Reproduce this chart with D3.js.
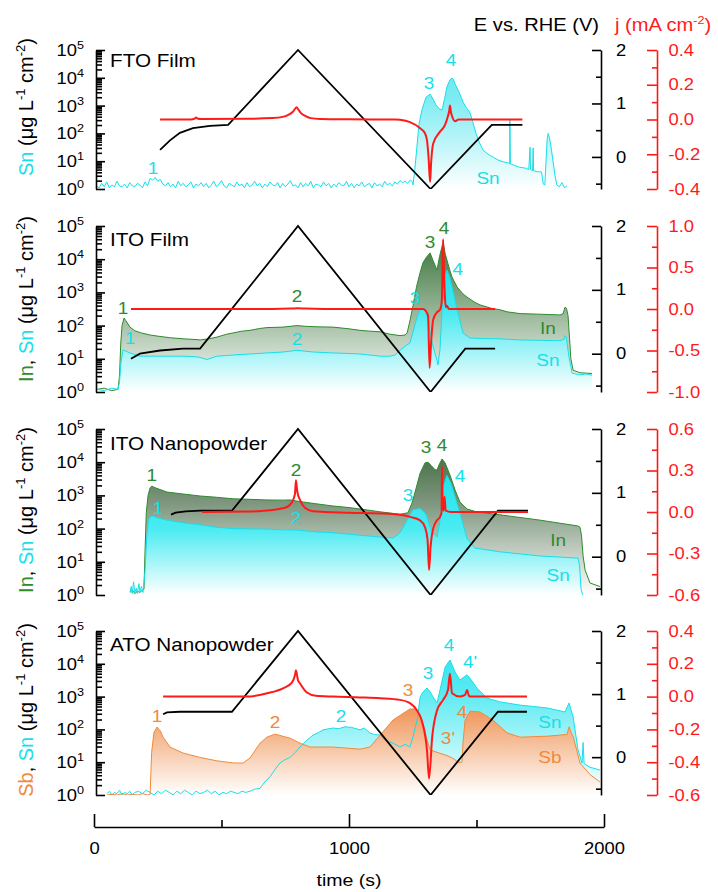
<!DOCTYPE html>
<html><head><meta charset="utf-8">
<script src="https://cdn.jsdelivr.net/npm/d3@7"></script>
<style>body{margin:0;background:#fff} svg text{font-family:"Liberation Sans",Arial,sans-serif}</style>
</head><body><svg id="c" width="718" height="892"></svg>
<script>
// ---------------- DATA ----------------
const timeTicks=[0,1000,2000], timeMinor=[500,1500];
const logTicks=[1,10,100,1000,10000,100000];
const eTicks=[0,1,2], eMinor=[-0.5,0.5,1.5];
const jTicksFTO=[-0.4,-0.2,0,0.2,0.4], jMinorFTO=[-0.3,-0.1,0.1,0.3];
const jTicksITOF=[-1,-0.5,0,0.5,1], jMinorITOF=[-0.75,-0.25,0.25,0.75];
const jTicksITON=[-0.6,-0.3,0,0.3,0.6], jMinorITON=[-0.45,-0.15,0.15,0.45];
const jTicksATO=[-0.6,-0.4,-0.2,0,0.2,0.4], jMinorATO=[-0.5,-0.3,-0.1,0.1,0.3];

// FTO film: Sn baseline (every 10 s from t=10 s) and dissolution peaks
const ftoSnNoise=[1.3,1.1,1.6,1.2,1.8,1.1,1.4,1.2,1.9,1.3,1.2,1.5,1.1,1.7,1.3,1.2,1.6,1.4,1.1,1.8,1.3,2.4,2.1,2.6,1.9,2.2,1.5,1.3,1.7,1.2,1.5,1.1,1.9,1.3,1.6,1.2,1.4,1.8,1.1,1.5,1.3,1.7,1.2,1.6,1.1,1.4,1.9,1.2,1.5,2.0,1.3,1.1,1.6,1.4,1.2,1.8,1.3,1.5,1.1,1.7,1.2,1.4,1.9,1.3,1.6,1.1,1.5,1.2,1.8,1.4,1.3,1.7,1.1,1.6,1.2,1.5,2.0,1.3,1.4,1.1,1.7,1.2,1.6,1.3,1.9,1.1,1.5,1.4,1.2,1.8,1.3,1.6,1.1,1.5,1.2,1.7,1.4,1.3,1.9,1.2,1.6,1.1,1.5,1.3,1.8,1.2,1.4,1.6,1.1,1.7,1.3,1.5,1.2,1.9,1.4,1.6,1.3,1.8,1.5,2.0,1.7,1.9,1.6,2.1,1.8];
const ftoSnPeaks=[[1251,1.4],[1258,5],[1266,30],[1274,200],[1286,700],[1302,2000],[1318,2600],[1330,1700],[1341,1050],[1355,750],[1365,700],[1375,1800],[1384,4700],[1396,8500],[1404,9800],[1410,8500],[1416,6000],[1428,3600],[1440,2000],[1447,1350],[1460,850],[1475,540],[1486,250],[1498,100],[1512,45],[1526,25],[1545,18],[1565,14],[1585,11],[1605,9.5],[1625,8.6],[1630,8],[1631,300],[1633,8],[1650,7],[1670,6],[1690,5.7],[1705,5],[1710,32],[1712,5],[1720,4.6],[1722,30],[1724,4.5],[1740,4.2],[1755,4.1],[1762,1.5],[1768,1.4],[1772,8],[1777,60],[1781,100],[1786,70],[1793,30],[1800,10],[1808,3],[1815,1.4],[1825,1.2],[1835,1.7],[1845,1.1],[1855,1.3]];
const ftoE=[[259,0.13],[298,0.31],[337,0.45],[388,0.54],[455,0.58],[526,0.6],[800,2.0],[1320,-0.6],[1560,0.6],[1680,0.6]];
const ftoJ=[[259,0],[380,0],[395,0.005],[400,0.012],[405,0.006],[420,0.003],[600,0.004],[700,0.008],[740,0.015],[760,0.025],[780,0.045],[795,0.07],[800,0.06],[810,0.04],[830,0.02],[850,0.008],[886,0.003],[1000,0.001],[1180,0],[1200,-0.002],[1239,-0.015],[1279,-0.05],[1298,-0.08],[1306,-0.12],[1312,-0.22],[1318,-0.36],[1322,-0.25],[1330,-0.14],[1357,-0.07],[1377,-0.03],[1388,0.02],[1393,0.05],[1396,0.08],[1400,0.04],[1404,0.02],[1416,-0.01],[1430,0],[1680,0]];

// ITO film
const itoFilmIn=[[12,1.2],[40,1.3],[70,1.1],[94,1.2],[100,3],[105,30],[110,100],[118,170],[125,140],[141,90],[160,70],[186,60],[220,52],[251,48],[300,43],[349,40],[400,38],[416,37],[450,40],[482,45],[520,55],[545,60],[580,68],[612,72],[650,82],[678,87],[741,90],[796,100],[830,95],[875,92],[937,90],[1000,80],[1043,72],[1082,68],[1122,65],[1161,55],[1200,50],[1220,52],[1228,60],[1240,150],[1251,400],[1265,1500],[1279,4000],[1290,7800],[1302,11000],[1318,15500],[1330,9000],[1345,4700],[1355,12000],[1369,33000],[1377,15000],[1384,9500],[1396,4500],[1404,2900],[1424,1450],[1447,900],[1463,720],[1494,500],[1514,420],[1560,330],[1592,300],[1620,260],[1671,230],[1749,220],[1828,210],[1840,230],[1847,360],[1853,330],[1859,200],[1865,40],[1870,10],[1879,4.5],[1906,3.8],[1953,3.6]];
const itoFilmSn=[[12,1.2],[40,1.1],[70,1.3],[94,1.2],[100,2],[106,8],[114,18.5],[125,17],[141,15],[180,12],[220,12],[349,12],[400,11.5],[416,11],[443,9.5],[482,12],[545,13],[612,14],[678,15],[741,16],[796,18],[860,16],[937,15],[1000,14.5],[1043,14],[1122,12],[1161,12],[1180,13],[1200,18],[1220,24],[1239,30],[1267,180],[1279,300],[1298,320],[1310,150],[1326,30],[1345,9],[1349,6.5],[1357,20],[1365,300],[1377,2900],[1384,4700],[1394,3000],[1404,1450],[1424,300],[1447,60],[1475,42],[1514,41],[1592,40],[1671,37],[1750,36],[1828,35],[1845,40],[1847,50],[1852,45],[1863,11],[1875,3.7],[1906,3.3],[1930,3.5],[1953,3.2]];
const itoFilmE=[[145,-0.08],[180,0.0],[259,0.05],[349,0.08],[416,0.08],[800,2.0],[1320,-0.6],[1456,0.08],[1573,0.08]];
const itoFilmJ=[[145,0],[700,0],[770,0.005],[800,0.01],[830,0.005],[900,0],[1290,0],[1300,-0.02],[1310,-0.08],[1316,-0.71],[1322,-0.4],[1330,-0.13],[1345,-0.04],[1357,-0.01],[1364,0.1],[1369,0.84],[1373,0.4],[1377,0.1],[1380,0.02],[1384,0.04],[1392,0],[1573,0]];

// ITO nanopowder
const itoNanoIn=[[141,1.2],[150,1.4],[160,1.1],[170,1.3],[180,1.2],[190,1.4],[196,1.5],[200,20],[205,300],[212,1000],[220,1700],[227,1900],[240,1700],[286,1260],[350,1100],[416,960],[480,880],[545,790],[612,760],[678,730],[741,720],[769,730],[808,650],[870,560],[937,480],[1000,430],[1043,390],[1122,320],[1200,270],[1231,300],[1247,590],[1259,1250],[1279,4700],[1298,9500],[1310,10000],[1322,8000],[1337,6000],[1345,5800],[1355,9000],[1365,12500],[1377,9500],[1396,4100],[1416,1450],[1435,630],[1463,390],[1502,316],[1592,260],[1749,180],[1898,120],[1906,110],[1912,60],[1918,15],[1926,5.6],[1945,2.3],[1984,1.8]];
const itoNanoSn=[[141,1.2],[146,1.8],[150,1.1],[155,2.5],[160,1.2],[166,1.6],[170,1.1],[176,2.2],[180,1.3],[186,1.8],[192,1.2],[200,5],[207,60],[214,180],[220,225],[231,240],[250,210],[286,180],[350,150],[416,130],[480,110],[545,100],[612,98],[678,97],[741,92],[796,90],[870,80],[937,75],[1000,68],[1043,63],[1122,56],[1173,52],[1200,75],[1228,180],[1251,370],[1279,400],[1302,270],[1322,90],[1345,56],[1357,180],[1369,1800],[1384,4000],[1400,2300],[1435,290],[1463,50],[1494,26],[1592,20],[1749,15],[1890,13],[1898,13],[1904,8],[1910,1.5],[1916,1]];
const itoNanoE=[[302,0.66],[320,0.69],[360,0.71],[416,0.72],[541,0.72],[800,2.0],[1320,-0.6],[1584,0.72],[1702,0.72]];
const itoNanoJ=[[424,0],[600,0.003],[678,0.01],[720,0.02],[757,0.036],[776,0.07],[788,0.13],[792,0.23],[797,0.15],[808,0.087],[827,0.03],[859,0.005],[1000,-0.005],[1122,-0.01],[1200,-0.02],[1239,-0.035],[1279,-0.06],[1298,-0.11],[1308,-0.2],[1314,-0.42],[1320,-0.25],[1330,-0.12],[1345,-0.06],[1357,-0.035],[1363,0.0],[1365,0.33],[1367,0.08],[1371,0.01],[1375,0.11],[1379,0.01],[1400,0],[1702,0]];

// ATO nanopowder
const atoSb=[[51,1.0],[70,1.05],[90,1.0],[110,1.1],[130,1.0],[150,1.05],[170,1.0],[190,1.1],[210,1.0],[220,1.05],[226,20],[235,80],[247,118],[260,90],[271,58],[298,29],[349,19],[416,14],[482,11],[545,9.5],[584,9.4],[612,13.5],[651,38],[678,58],[710,72],[740,62],[769,54],[808,38],[847,29],[937,29],[1043,25],[1082,29],[1122,67],[1173,195],[1239,420],[1259,420],[1279,275],[1290,157],[1306,48],[1318,24],[1345,20],[1384,16],[1408,13],[1428,10],[1443,10],[1447,38],[1455,190],[1475,360],[1514,340],[1565,190],[1620,78],[1671,58],[1777,62],[1855,70],[1863,120],[1871,80],[1879,60],[1906,9.4],[1945,4.2],[1984,2.5]];
const atoSn=[[51,1.1],[60,1.3],[70,1.0],[80,1.2],[90,1.1],[100,1.4],[110,1.0],[120,1.2],[130,1.1],[140,1.3],[150,1.0],[160,1.2],[175,1.3],[190,1.1],[205,1.4],[220,1.2],[235,1.0],[250,1.3],[265,1.1],[280,1.4],[295,1.2],[310,1.0],[325,1.3],[340,1.1],[355,1.4],[370,1.2],[385,1.0],[400,1.3],[415,1.1],[430,1.2],[445,1.4],[460,1.1],[475,1.3],[490,1.0],[505,1.2],[520,1.1],[535,1.3],[550,1.2],[565,1.1],[580,1.3],[595,1.2],[612,1.3],[630,1.5],[651,1.6],[670,2.5],[690,3.6],[710,6],[729,9.4],[750,12],[769,14],[790,20],[808,29],[835,47],[859,67],[880,80],[898,97],[937,110],[960,105],[984,120],[1010,115],[1043,97],[1060,110],[1082,78],[1100,70],[1122,67],[1141,47],[1173,38],[1200,29],[1220,35],[1239,29],[1251,60],[1267,190],[1279,970],[1290,1380],[1306,1830],[1318,1400],[1330,970],[1345,640],[1357,1600],[1377,8000],[1396,13000],[1416,5600],[1435,3200],[1463,4600],[1475,3600],[1502,1800],[1541,900],[1592,690],[1671,550],[1777,450],[1847,340],[1863,640],[1879,240],[1898,24],[1914,9.4],[1918,40],[1922,9],[1945,7],[1984,5.8]];
const atoE=[[271,0.68],[286,0.71],[337,0.72],[541,0.72],[800,2.0],[1320,-0.6],[1584,0.72],[1698,0.72]];
const atoJ=[[271,0],[600,0.0],[678,0.02],[741,0.05],[776,0.085],[788,0.13],[792,0.16],[800,0.1],[808,0.08],[835,0.025],[870,0.005],[937,0],[1043,-0.005],[1122,-0.01],[1200,-0.02],[1239,-0.04],[1267,-0.085],[1286,-0.15],[1306,-0.33],[1314,-0.5],[1326,-0.25],[1345,-0.085],[1369,-0.02],[1388,0.04],[1396,0.14],[1404,0.02],[1435,0],[1455,0.01],[1463,0.04],[1469,0.01],[1475,0],[1698,0]];

// annotations [t, concentration, text, colour]
const ftoLabels=[[231,5.7,'1','c'],[1314,6500,'3','c'],[1400,44000,'4','c'],[1545,2.5,'Sn','c']];
const itoFilmLabels=[[114,340,'1','g'],[141,42,'1','c'],[796,780,'2','g'],[796,40,'2','c'],[1318,33000,'3','g'],[1373,87000,'4','g'],[1427,5000,'4','c'],[1259,670,'3','c'],[1780,85,'In','g'],[1780,9.2,'Sn','c']];
const itoNanoLabels=[[227,4100,'1','g'],[251,420,'1','c'],[792,5800,'2','g'],[792,210,'2','c'],[1302,29000,'3','g'],[1365,33000,'4','g'],[1231,1000,'3','c'],[1435,3800,'4','c'],[1820,45,'In','g'],[1820,4,'Sn','c']];
const atoLabels=[[247,255,'1','o'],[710,170,'2','o'],[969,255,'2','c'],[1231,1600,'3','o'],[1310,5200,'3','c'],[1392,37000,'4','c'],[1475,11000,"4'",'c'],[1443,340,'4','o'],[1388,55,"3'",'o'],[1788,170,'Sn','c'],[1788,14,'Sb','o']];

// ---------------- DRAWING ----------------
const COL={c:'#17dfea',g:'#2e8b2e',o:'#f08a3c',r:'#ff1a1a',k:'#000'};
const SX=1.15;
const FONT='"Liberation Sans",Arial,sans-serif';
const svg=d3.select('#c');
svg.append('rect').attr('width',718).attr('height',892).attr('fill','#fff');
const defs=svg.append('defs');
const x=d3.scaleLinear().domain([0,2000]).range([94,604]);
const XL=97, XR=600;

const panels=[
 {id:'p1',top:50,bottom:189,title:'FTO Film',titleDy:17,titleCy:107,yTitle:[['Sn','c']],
  jDomain:[-0.4,0.4],jTicks:jTicksFTO,jMinor:jMinorFTO,E:ftoE,J:ftoJ,labels:ftoLabels,
  series:[{name:'sn',data:ftoSnNoise.map((v,i)=>[10*(i+1),v]).concat(ftoSnPeaks),col:'c',stops:[[0,'#5ce6ee'],[0.35,'#7eecf2'],[1,'#ffffff']]}]},
 {id:'p2',top:226,bottom:392,title:'ITO Film',titleDy:20,titleCy:299,yTitle:[['In','g'],[', ','k'],['Sn','c']],
  jDomain:[-1,1],jTicks:jTicksITOF,jMinor:jMinorITOF,E:itoFilmE,J:itoFilmJ,labels:itoFilmLabels,
  series:[{name:'in',data:itoFilmIn,col:'g',stops:[[0,'#2a672a'],[1,'#ffffff']]},
          {name:'sn',data:itoFilmSn,col:'c',stops:[[0,'#00dce8'],[0.5,'#40e8f0'],[1,'#ffffff']]}]},
 {id:'p3',top:429,bottom:595,title:'ITO Nanopowder',titleDy:21,titleCy:510,yTitle:[['In','g'],[', ','k'],['Sn','c']],
  jDomain:[-0.6,0.6],jTicks:jTicksITON,jMinor:jMinorITON,E:itoNanoE,J:itoNanoJ,labels:itoNanoLabels,
  series:[{name:'in',data:itoNanoIn,col:'g',stops:[[0,'#2a5a2a'],[0.45,'#7f977f'],[1,'#ffffff']]},
          {name:'sn',data:itoNanoSn,col:'c',stops:[[0,'#00dce8'],[0.6,'#4aebf2'],[1,'#ffffff']]}]},
 {id:'p4',top:631,bottom:795,title:'ATO Nanopowder',titleDy:20,titleCy:710,yTitle:[['Sb','o'],[', ','k'],['Sn','c']],
  jDomain:[-0.6,0.4],jTicks:jTicksATO,jMinor:jMinorATO,E:atoE,J:atoJ,labels:atoLabels,
  series:[{name:'sn',data:atoSn,col:'c',stops:[[0,'#20dfea'],[0.35,'#55eaf1'],[1,'#ffffff']]},
          {name:'sb',data:atoSb,col:'o',stops:[[0,'#e87a30'],[0.5,'#f09a60'],[1,'#ffffff']]}]}
];

function stretchText(sel){ sel.attr('transform',`scale(${SX},1)`); }

panels.forEach(p=>{
  const y=d3.scaleLog().domain([1,1e5]).range([p.bottom,p.top]);
  const yE=d3.scaleLinear().domain([-0.6,2]).range([p.bottom,p.top]);
  const yJ=d3.scaleLinear().domain(p.jDomain).range([p.bottom,p.top]);
  const g=svg.append('g');
  const clipId='clip'+p.id;
  defs.append('clipPath').attr('id',clipId).append('rect')
    .attr('x',XL).attr('y',p.top-3).attr('width',XR-XL).attr('height',p.bottom-p.top+3);
  const plot=g.append('g').attr('clip-path',`url(#${clipId})`);
  // fills
  p.series.forEach(s=>{
    const gid='grad'+p.id+s.name;
    const lg=defs.append('linearGradient').attr('id',gid).attr('gradientUnits','userSpaceOnUse')
      .attr('x1',0).attr('x2',0).attr('y1',p.top).attr('y2',p.bottom);
    s.stops.forEach(st=>lg.append('stop').attr('offset',st[0]).attr('stop-color',st[1]));
    plot.append('path').datum(s.data).attr('fill',`url(#${gid})`)
      .attr('d',d3.area().x(d=>x(d[0])).y0(p.bottom+2).y1(d=>y(Math.max(d[1],0.5))));
  });
  p.series.forEach(s=>{
    plot.append('path').datum(s.data).attr('fill','none').attr('stroke',COL[s.col]).attr('stroke-width',1)
      .attr('d',d3.line().x(d=>x(d[0])).y(d=>y(Math.max(d[1],0.5))));
  });
  // potential and current
  plot.append('path').datum(p.E).attr('fill','none').attr('stroke','#000').attr('stroke-width',1.8)
    .attr('stroke-linejoin','miter').attr('d',d3.line().x(d=>x(d[0])).y(d=>yE(d[1])));
  plot.append('path').datum(p.J).attr('fill','none').attr('stroke',COL.r).attr('stroke-width',2)
    .attr('d',d3.line().curve(d3.curveMonotoneX).x(d=>x(d[0])).y(d=>yJ(d[1])));

  // left log axis
  const la=g.append('g').attr('transform',`translate(${XL-1},0)`);
  la.call(d3.axisLeft(y).tickValues(logTicks).tickSize(-9).tickSizeOuter(0).tickFormat(''));
  const minors=[];
  logTicks.slice(0,5).forEach(b=>{for(let m=2;m<=9;m++)minors.push(b*m);});
  const lm=g.append('g').attr('transform',`translate(${XL-1},0)`);
  lm.call(d3.axisLeft(y).tickValues(minors).tickSize(-6).tickSizeOuter(0).tickFormat(''));
  lm.select('.domain').remove();
  [la,lm].forEach(a=>a.selectAll('line,path').attr('stroke','#000').attr('stroke-width',1.6));
  logTicks.forEach(v=>{
    const t=g.append('text').attr('transform',`translate(84,${y(v)+6}) scale(${SX},1)`)
      .attr('text-anchor','end').attr('font-size',16).attr('fill','#000');
    t.append('tspan').text('10');
    t.append('tspan').attr('font-size',11).attr('dy',-7).text(String(Math.round(Math.log10(v))));
  });
  // right E axis
  const ea=g.append('g').attr('transform',`translate(${XR+1},0)`);
  ea.call(d3.axisRight(yE).tickValues(eTicks).tickSize(-9).tickSizeOuter(0).tickPadding(13).tickFormat(d=>String(d)));
  const em=g.append('g').attr('transform',`translate(${XR+1},0)`);
  em.call(d3.axisRight(yE).tickValues(eMinor).tickSize(-5).tickSizeOuter(0).tickFormat(''));
  em.select('.domain').remove();
  [ea,em].forEach(a=>{a.selectAll('line,path').attr('stroke','#000').attr('stroke-width',1.6);});
  ea.selectAll('text').attr('font-size',16).attr('font-family',FONT).attr('fill','#000').call(stretchText);
  // right j axis
  const ja=g.append('g').attr('transform','translate(657,0)');
  ja.call(d3.axisRight(yJ).tickValues(p.jTicks).tickSize(-10).tickSizeOuter(0).tickPadding(10).tickFormat(d=>d.toFixed(1)));
  const jm=g.append('g').attr('transform','translate(657,0)');
  jm.call(d3.axisRight(yJ).tickValues(p.jMinor).tickSize(-5).tickSizeOuter(0).tickFormat(''));
  jm.select('.domain').remove();
  [ja,jm].forEach(a=>{a.selectAll('line,path').attr('stroke',COL.r).attr('stroke-width',1.6);});
  ja.selectAll('text').attr('font-size',16).attr('font-family',FONT).attr('fill',COL.r).call(stretchText);

  // panel title
  g.append('text').attr('transform',`translate(110,${p.top+p.titleDy}) scale(${SX},1)`)
    .attr('font-size',18).attr('fill','#000').text(p.title);
  // y-axis title (rotated)
  const yt=g.append('text').attr('transform',`translate(33,${p.titleCy}) rotate(-90)`)
    .attr('text-anchor','middle').attr('font-size',20).attr('fill','#000');
  p.yTitle.forEach(w=>yt.append('tspan').attr('fill',COL[w[1]]).text(w[0]));
  yt.append('tspan').text(' (\u03bcg L');
  yt.append('tspan').attr('font-size',13).attr('dy',-8).text('-1');
  yt.append('tspan').attr('dy',8).text(' cm');
  yt.append('tspan').attr('font-size',13).attr('dy',-8).text('-2');
  yt.append('tspan').attr('dy',8).text(')');
  // annotations
  p.labels.forEach(l=>{
    g.append('text').attr('transform',`translate(${x(l[0])},${y(l[1])}) scale(${SX},1)`)
      .attr('text-anchor','middle').attr('dy','0.36em').attr('font-size',16.5).attr('fill',COL[l[3]]).text(l[2]);
  });
});

// bottom time axis
const xa=svg.append('g').attr('transform','translate(0,827)');
xa.call(d3.axisBottom(x).tickValues(timeTicks).tickSize(-13).tickSizeOuter(0).tickPadding(16).tickFormat(d=>String(d)));
const xm=svg.append('g').attr('transform','translate(0,827)');
xm.call(d3.axisBottom(x).tickValues(timeMinor).tickSize(-7).tickSizeOuter(0).tickFormat(''));
xm.select('.domain').remove();
[xa,xm].forEach(a=>a.selectAll('line,path').attr('stroke','#000').attr('stroke-width',1.6));
xa.selectAll('text').attr('font-size',16).attr('font-family',FONT).attr('fill','#000').call(stretchText);
svg.append('text').attr('transform',`translate(349,886) scale(${SX},1)`).attr('text-anchor','middle')
  .attr('font-size',17).attr('fill','#000').text('time (s)');

// header
svg.append('text').attr('transform',`translate(599,31) scale(${SX},1)`).attr('text-anchor','end')
  .attr('font-size',17.5).attr('fill','#000').text('E vs. RHE (V)');
const jh=svg.append('text').attr('transform',`translate(615,31) scale(${SX},1)`)
  .attr('font-size',17.5).attr('fill',COL.r);
jh.append('tspan').text('j (mA cm');
jh.append('tspan').attr('font-size',11).attr('dy',-7).text('-2');
jh.append('tspan').attr('dy',7).text(')');
</script></body></html>
